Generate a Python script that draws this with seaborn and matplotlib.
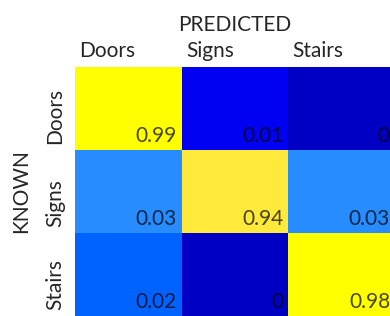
# matriz de confusión: clases conocidas vs predichas
import numpy as np
import pandas as pd
import matplotlib
matplotlib.use("Agg")
import matplotlib.pyplot as plt
import matplotlib.transforms as mtransforms
from matplotlib.colors import LinearSegmentedColormap
import seaborn as sns

# datos
clases = ["Doors", "Signs", "Stairs"]
fila_doors = [0.99, 0.01, 0]
fila_signs = [0.03, 0.94, 0.03]
fila_stairs = [0.02, 0, 0.98]

matriz = pd.DataFrame([fila_doors, fila_signs, fila_stairs], index=clases, columns=clases)

# colores tipo Excel (escala azul -> amarillo)
nodos = [0.0, 0.01, 0.02, 0.03, 0.94, 0.98, 1.0]
colores = ["#0000c4", "#0000ff", "#0066ff", "#3399ff", "#ffe83c", "#ffff00", "#ffff00"]
cmap = LinearSegmentedColormap.from_list("azul_amarillo", list(zip(nodos, colores)))

sns.set_theme(style="white")
plt.rcParams["font.family"] = ["Lato", "DejaVu Sans"]

fig = plt.figure(figsize=(3.9, 3.16), dpi=100)
ax = fig.add_axes([75 / 390, 0, 320 / 390, (316 - 66.7) / 316])

sns.heatmap(matriz, cmap=cmap, vmin=0, vmax=1, cbar=False, annot=False, ax=ax)

# etiquetas en la esquina inferior derecha de cada celda
desplazamiento = mtransforms.offset_copy(ax.transData, fig=fig, x=-5, y=8, units="dots")
for i in range(len(clases)):
    for j in range(len(clases)):
        v = matriz.iloc[i, j]
        ax.text(j + 1, i + 1, f"{v:g}", ha="right", va="baseline", fontsize=15,
                color="black", alpha=0.72, transform=desplazamiento)

# etiquetas de columnas arriba, alineadas a la izquierda
ax.xaxis.tick_top()
ax.xaxis.set_label_position("top")
ax.set_xticks(np.arange(len(clases)) + 0.04)
ax.set_xticklabels(clases, ha="left", fontsize=15, color="#262626")
ax.set_xlabel("PREDICTED", fontsize=15, color="#262626", labelpad=7)

# etiquetas de filas rotadas, leídas de abajo hacia arriba
ax.set_yticks(np.arange(len(clases)) + 0.93)
ax.set_yticklabels(clases, rotation=90, va="bottom", ha="left", rotation_mode="anchor",
                   fontsize=15, color="#262626")
ax.set_ylabel("KNOWN", fontsize=15, color="#262626", labelpad=10)
ax.tick_params(axis="x", length=0, pad=4)
ax.tick_params(axis="y", length=0, pad=7)

for s in ax.spines.values():
    s.set_visible(False)

fig.savefig("out.png", dpi=100)
